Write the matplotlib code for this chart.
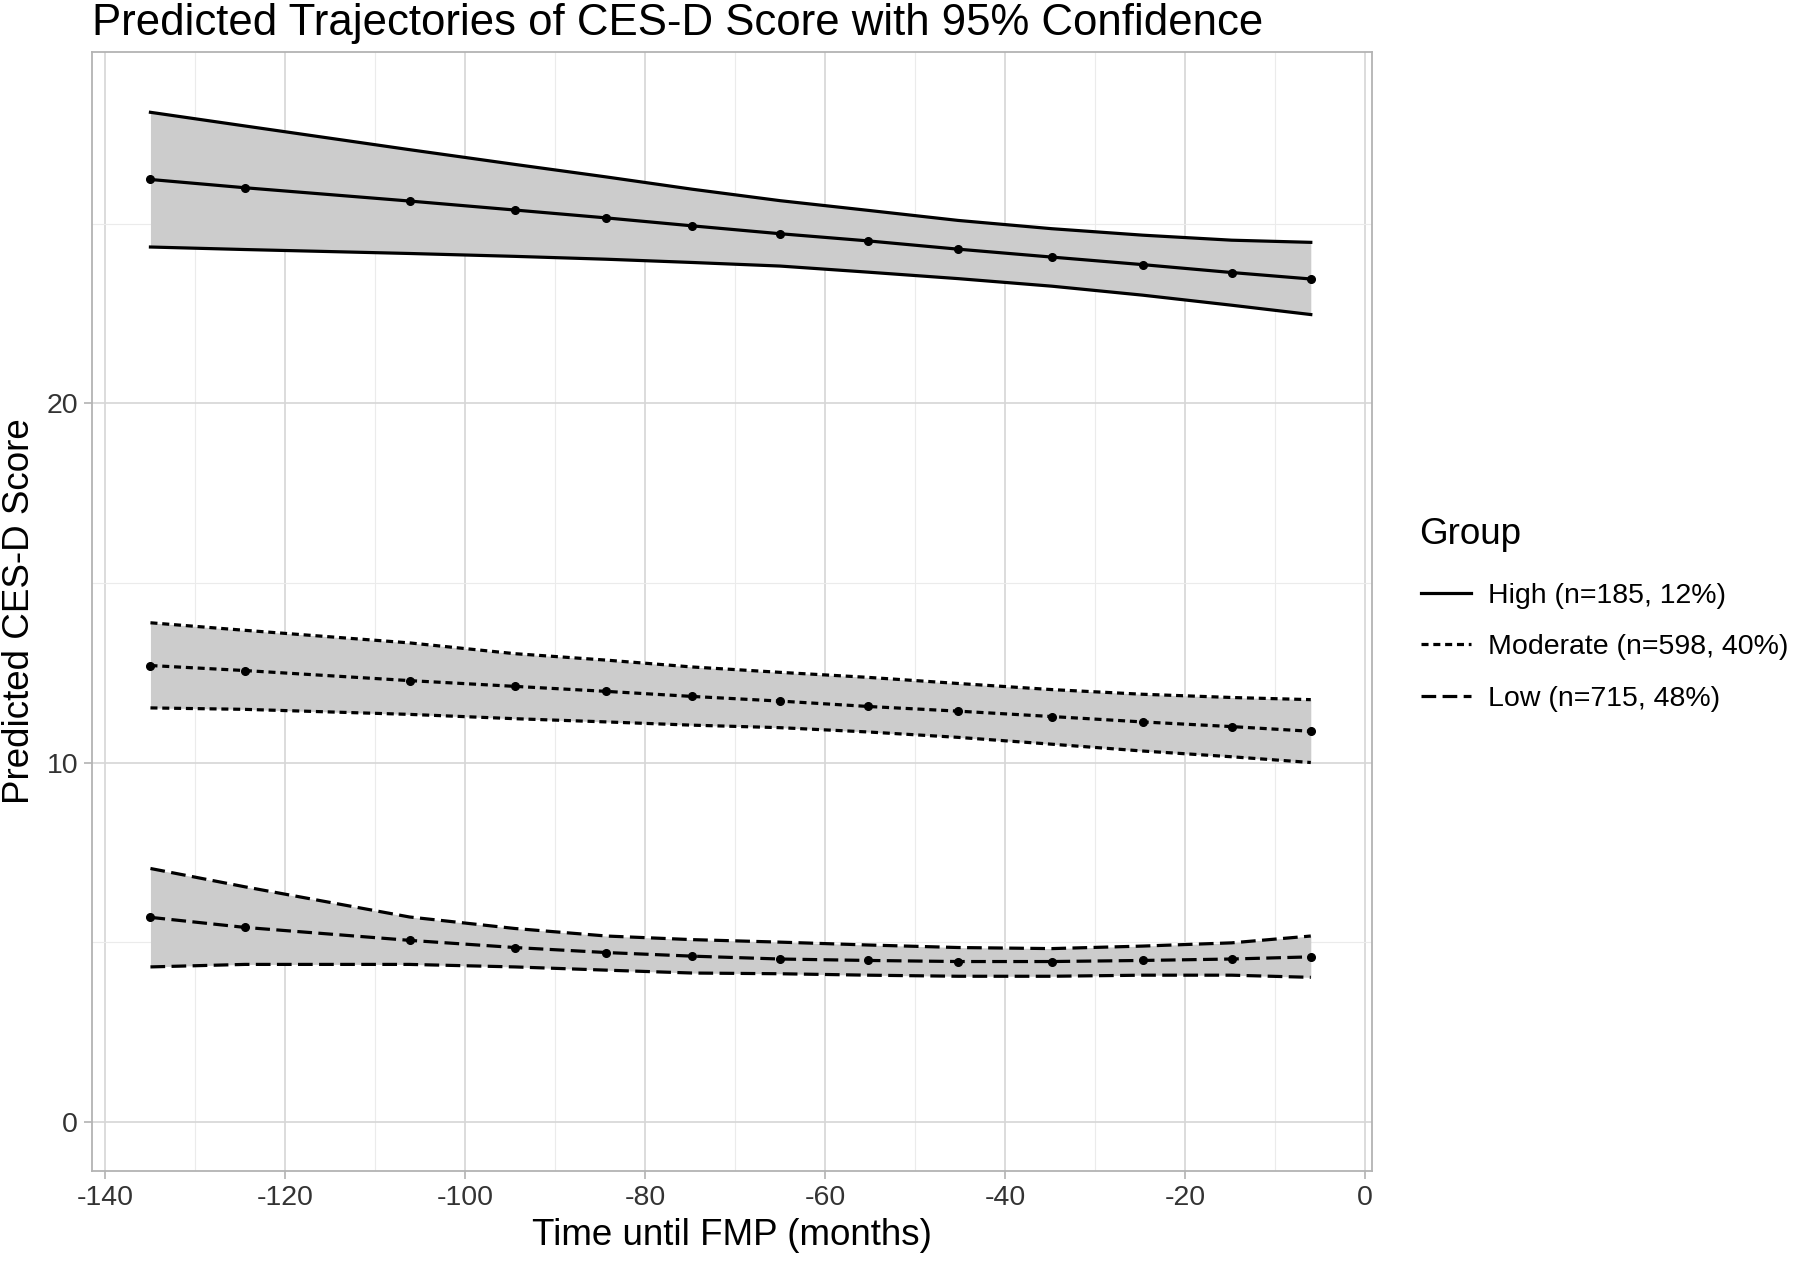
import matplotlib
matplotlib.use("Agg")
import matplotlib.pyplot as plt
from matplotlib.lines import Line2D
from matplotlib.ticker import MultipleLocator

plt.rcParams['font.family'] = ['Liberation Sans', 'DejaVu Sans']
plt.rcParams['axes.unicode_minus'] = False

# time points (months before FMP)
months = [-135.0, -124.5, -106.2, -94.5, -84.3, -74.8, -65.0,
          -55.2, -45.2, -34.8, -24.7, -14.8, -6.0]

groups = ["High (n=185, 12%)", "Moderate (n=598, 40%)", "Low (n=715, 48%)"]

high_fit = [26.23, 26.00, 25.63, 25.38, 25.16, 24.94, 24.72,
            24.52, 24.29, 24.07, 23.86, 23.64, 23.46]
high_upper = [28.10, 27.72, 27.06, 26.65, 26.30, 25.96, 25.64,
              25.37, 25.09, 24.86, 24.68, 24.54, 24.48]
high_lower = [24.35, 24.28, 24.17, 24.09, 24.01, 23.92, 23.82,
              23.65, 23.47, 23.26, 23.01, 22.73, 22.47]

mod_fit = [12.70, 12.56, 12.28, 12.12, 11.98, 11.84, 11.71,
           11.56, 11.43, 11.28, 11.13, 11.00, 10.87]
mod_upper = [13.89, 13.68, 13.33, 13.03, 12.85, 12.66, 12.51,
             12.37, 12.20, 12.03, 11.90, 11.81, 11.75]
mod_lower = [11.52, 11.48, 11.34, 11.22, 11.13, 11.04, 10.97,
             10.85, 10.70, 10.51, 10.32, 10.16, 10.00]

low_fit = [5.69, 5.41, 5.05, 4.85, 4.71, 4.61, 4.53,
           4.49, 4.46, 4.46, 4.49, 4.53, 4.59]
low_upper = [7.05, 6.54, 5.70, 5.38, 5.17, 5.07, 5.00,
             4.92, 4.85, 4.82, 4.89, 4.98, 5.17]
low_lower = [4.31, 4.38, 4.38, 4.31, 4.22, 4.14, 4.12,
             4.08, 4.05, 4.05, 4.08, 4.08, 4.02]

series = [
    (high_fit, high_lower, high_upper, '-'),
    (mod_fit, mod_lower, mod_upper, (0, (2.2, 1.5))),
    (low_fit, low_lower, low_upper, (0, (4.6, 2.0))),
]

fig = plt.figure(figsize=(18, 12.61), dpi=100)
ax = fig.add_axes([0.0511, 0.0714, 0.7111, 0.8874])

lw = 2.3
for fit, lo, up, ls in series:
    ax.fill_between(months, lo, up, color='#cccccc', linewidth=0, zorder=1)
    ax.plot(months, up, color='black', lw=lw, linestyle=ls, zorder=3)
    ax.plot(months, lo, color='black', lw=lw, linestyle=ls, zorder=3)
    ax.plot(months, fit, color='black', lw=lw, linestyle=ls, zorder=3)
    ax.plot(months, fit, 'o', color='black', markersize=5.5, zorder=4)

ax.set_xlim(-141.5, 0.8)
ax.set_ylim(-1.37, 29.78)
ax.xaxis.set_major_locator(MultipleLocator(20))
ax.xaxis.set_minor_locator(MultipleLocator(10))
ax.yaxis.set_major_locator(MultipleLocator(10))
ax.yaxis.set_minor_locator(MultipleLocator(5))

ax.grid(which='major', color='#d6d6d6', linewidth=1.2, zorder=0)
ax.grid(which='minor', color='#ebebeb', linewidth=0.8, zorder=0)
ax.set_axisbelow(True)
for s in ax.spines.values():
    s.set_color('#b3b3b3')
    s.set_linewidth(1.3)
ax.tick_params(which='major', length=6, width=1.2, color='#b3b3b3',
               labelsize=20.5, labelcolor='#333333', pad=4)
ax.tick_params(which='minor', length=0)

ax.set_xlabel('Time until FMP (months)', fontsize=26.5, labelpad=5)
ax.set_ylabel('Predicted CES-D Score', fontsize=26.5, labelpad=7)
ax.set_title('Predicted Trajectories of CES-D Score with 95% Confidence',
             fontsize=31.5, loc='left', pad=12)

# legend: title drawn separately so the gap matches ggplot's
fig.text(0.7885, 0.5762, 'Group', fontsize=26.5, ha='left', va='center')
handles = [Line2D([], [], color='black', lw=lw, linestyle=s[3]) for s in series]
leg = fig.legend(handles, groups, loc='center left',
                 bbox_to_anchor=(0.7816, 0.4866), frameon=False, borderpad=0,
                 fontsize=20.5, handlelength=1.75,
                 labelspacing=0.9, handletextpad=0.6)

fig.savefig('out.png', dpi=100, facecolor='white')
